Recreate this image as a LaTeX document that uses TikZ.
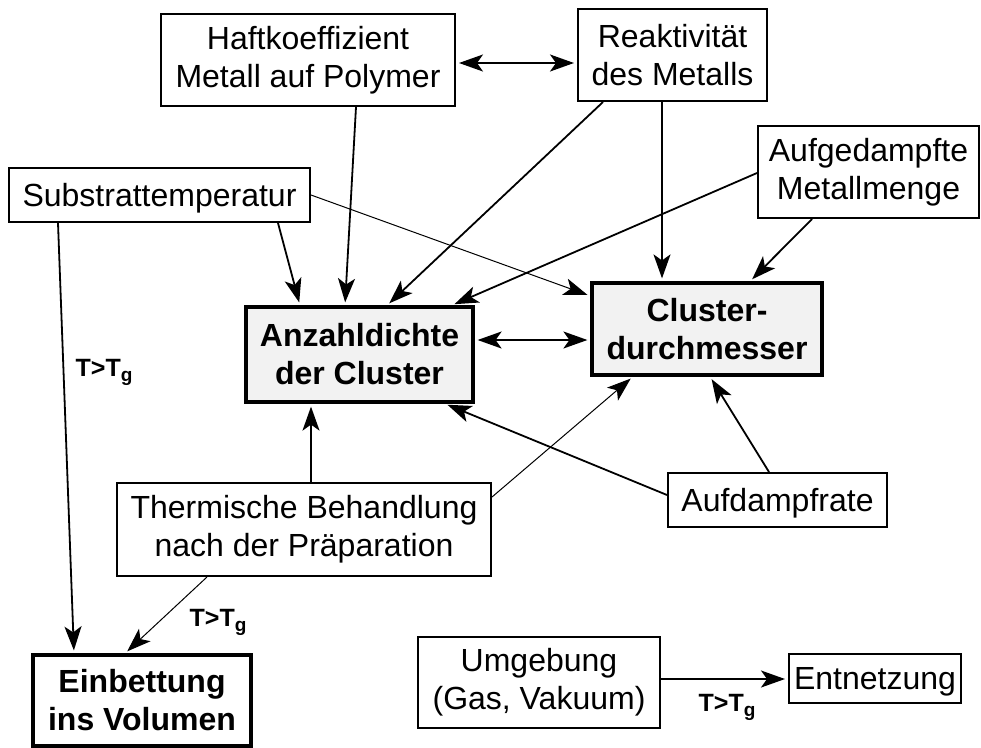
\documentclass[tikz,border=0pt]{standalone}
\usepackage{fontspec}
\setmainfont{Liberation Sans}
\usetikzlibrary{arrows.meta,calc}

\begin{document}
\begin{tikzpicture}[x=1pt,y=-1pt]

        \tikzset{
            box/.style={draw, line width=2pt, fill=white, inner sep=0pt, align=center,
                font=\fontsize{32}{38}\selectfont},
            onebox/.style={box, text depth=0pt},
            mainbox/.style={box, line width=3.2pt, font=\fontsize{32}{38}\selectfont\bfseries},
            clusterbox/.style={mainbox, fill=gray!10},
            arr/.style={-{Stealth[length=24pt,width=17pt,inset=6pt]}, line width=1.8pt, shorten >=3pt},
            arrthin/.style={arr, line width=1pt},
            darr/.style={{Stealth[length=24pt,width=17pt,inset=6pt]}-{Stealth[length=24pt,width=17pt,inset=6pt]},
                line width=1.8pt, shorten >=3pt, shorten <=3pt},
            cond/.style={font=\fontsize{25}{30}\selectfont\bfseries}
        }

        \newcommand{\tgsub}{T>T{\fontsize{19}{19}\selectfont\raisebox{-5pt}{g}}}

        \useasboundingbox (0,0) rectangle (981,747);

        \node[box, minimum width=294, minimum height=92] (haft) at (308,60)
            {Haftkoeffizient\\Metall auf Polymer};
        \node[box, minimum width=189, minimum height=92] (reak) at (672.5,55)
            {Reaktivität\\des Metalls};
        \node[onebox, minimum width=301, minimum height=54] (substrat) at (159.5,195)
            {Substrattemperatur};
        \node[box, minimum width=221, minimum height=92] (menge) at (868.5,172)
            {Aufgedampfte\\Metallmenge};
        \node[clusterbox, minimum width=227, minimum height=95] (anzahl) at (359.5,354.5)
            {Anzahldichte\\der Cluster};
        \node[clusterbox, minimum width=230, minimum height=92] (durchm) at (707,329)
            {Cluster-\\durchmesser};
        \node[box, minimum width=374, minimum height=93] (therm) at (304,529.5)
            {Thermische Behandlung\\nach der Präparation};
        \node[onebox, minimum width=219, minimum height=54] (rate) at (777.5,500)
            {Aufdampfrate};
        \node[mainbox, fill=white, minimum width=218, minimum height=91] (einb) at (142,700.5)
            {Einbettung\\ins Volumen};
        \node[box, minimum width=242, minimum height=91] (umg) at (539,682.5)
            {Umgebung\\(Gas, Vakuum)};
        \node[onebox, minimum width=172, minimum height=49] (entn) at (875,678.5)
            {Entnetzung};

        \node[cond] (tg1) at (104,372) {\tgsub};
        \node[cond] (tg2) at (218,622) {\tgsub};
        \node[cond] (tg3) at (727,707) {\tgsub};

        \draw[darr] ($(haft.east)+(0,3)$) -- ($(reak.west)+(0,8)$);
        \draw[darr] ($(anzahl.east)+(0,-14.5)$) -- ($(durchm.west)+(0,11)$);

        \draw[arr] ($(haft.south)+(48,0)$) -- ($(anzahl.north)+(-14.5,0)$);
        \draw[arr] ($(substrat.south)+(118.5,0)$) -- ($(anzahl.north)+(-59.5,0)$);
        \draw[arrthin] (substrat.east) -- ($(durchm.west)+(0,-33)$);
        \draw[arr] ($(reak.south)+(-69.5,0)$) -- ($(anzahl.north)+(27.5,0)$);
        \draw[arr] ($(reak.south)+(-10.5,0)$) -- ($(durchm.north)+(-45,0)$);
        \draw[arr] ($(menge.west)+(0,1)$) -- ($(anzahl.north east)+(-23,0)$);
        \draw[arr] ($(menge.south)+(-56.5,0)$) -- ($(durchm.north)+(43,0)$);
        \draw[arr] ($(therm.north)+(7,0)$) -- ($(anzahl.south)+(-48.5,0)$);
        \draw[arrthin] ($(therm.east)+(0,-32.5)$) -- ($(durchm.south)+(-74,0)$);
        \draw[arr] ($(rate.west)+(0,-5)$) -- ($(anzahl.south east)+(-30,0)$);
        \draw[arr] ($(rate.north)+(-8.5,0)$) -- ($(durchm.south)+(3,0)$);
        \draw[arr] ($(substrat.south)+(-101.5,0)$) -- ($(einb.north)+(-68,0)$);
        \draw[arrthin] ($(therm.south)+(-97,0)$) -- ($(einb.north)+(-17,0)$);
        \draw[arr] ($(umg.east)+(0,-3.5)$) -- ($(entn.west)+(0,0.5)$);

\end{tikzpicture}
\end{document}
